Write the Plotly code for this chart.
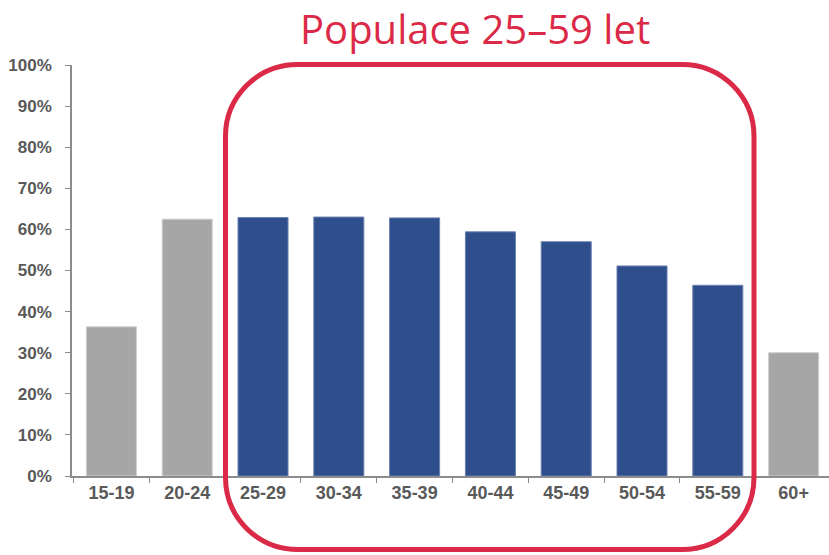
import plotly.graph_objects as go

# Age groups and share of each group (%)
age_groups = ["15-19", "20-24", "25-29", "30-34", "35-39", "40-44", "45-49", "50-54", "55-59", "60+"]
share_pct = [36.3, 62.5, 62.9, 63.0, 62.8, 59.4, 57.0, 51.1, 46.4, 30.0]
core_groups = ["25-29", "30-34", "35-39", "40-44", "45-49", "50-54", "55-59"]
y_ticks = [0, 10, 20, 30, 40, 50, 60, 70, 80, 90, 100]
y_tick_text = [f"{v}%" for v in y_ticks]
highlight_title = "Populace 25–59 let"

W, H = 829, 555
ML, MR, MT, MB = 72, 0, 65, 79
PW, PH = W - ML - MR, H - MT - MB
STEP = 75.8  # pixel width of one category slot

BLUE, BLUE_EDGE = "#2E4E8C", "#6A80B0"
GREY, GREY_EDGE = "#A6A6A6", "#CFCFCF"
RED = "#DA2A47"
TXT = "#595959"

fill = [BLUE if g in core_groups else GREY for g in age_groups]
edge = [BLUE_EDGE if g in core_groups else GREY_EDGE for g in age_groups]

fig = go.Figure(go.Bar(
    x=age_groups, y=share_pct, width=0.66,
    marker=dict(color=fill, line=dict(color=edge, width=1)),
    hovertemplate="%{x}: %{y:.1f}%<extra></extra>",
))


def fx(p):
    return (p - ML) / PW


def fy(p):
    return (H - MB - p) / PH


def rounded_rect(x0, y0, x1, y1, r):
    k = 0.5523 * r
    pts = [
        ("M", [(x0 + r, y0)]),
        ("L", [(x1 - r, y0)]),
        ("C", [(x1 - r + k, y0), (x1, y0 + r - k), (x1, y0 + r)]),
        ("L", [(x1, y1 - r)]),
        ("C", [(x1, y1 - r + k), (x1 - r + k, y1), (x1 - r, y1)]),
        ("L", [(x0 + r, y1)]),
        ("C", [(x0 + r - k, y1), (x0, y1 - r + k), (x0, y1 - r)]),
        ("L", [(x0, y0 + r)]),
        ("C", [(x0, y0 + r - k), (x0 + r - k, y0), (x0 + r, y0)]),
    ]
    out = []
    for cmd, coords in pts:
        out.append(cmd + " ".join(f"{fx(a):.5f},{fy(b):.5f}" for a, b in coords))
    return " ".join(out) + " Z"


# Frame around the 25–59 age groups
fig.add_shape(type="path", xref="paper", yref="paper",
              path=rounded_rect(225.5, 64.5, 754, 549.5, 72),
              line=dict(color=RED, width=5), layer="above")

fig.add_annotation(text=highlight_title, xref="paper", yref="paper",
                   x=fx(475), y=fy(28), xanchor="center", yanchor="middle",
                   showarrow=False, font=dict(family="Open Sans, sans-serif", size=40, color=RED))

fig.update_layout(
    width=W, height=H,
    margin=dict(l=ML, r=MR, t=MT, b=MB),
    paper_bgcolor="white", plot_bgcolor="white",
    showlegend=False,
    xaxis=dict(
        range=[-0.52, -0.52 + PW / STEP],
        showline=True, linecolor="#8C8C8C", linewidth=1.5,
        ticks="outside", tickson="boundaries", ticklen=5, tickcolor="#8C8C8C",
        tickfont=dict(family="Liberation Sans, Arial, sans-serif", size=18, color=TXT, weight="bold"),
        showgrid=False, zeroline=False, fixedrange=True,
    ),
    yaxis=dict(
        range=[0, 100], tickvals=y_ticks, ticktext=y_tick_text,
        showline=True, linecolor="#8C8C8C", linewidth=1.5,
        ticks="outside", ticklen=5, tickcolor="#8C8C8C",
        ticklabelstandoff=10,
        tickfont=dict(family="Liberation Sans, Arial, sans-serif", size=17, color=TXT, weight="bold"),
        showgrid=False, zeroline=False, fixedrange=True,
    ),
)

fig.write_html("out.html")
